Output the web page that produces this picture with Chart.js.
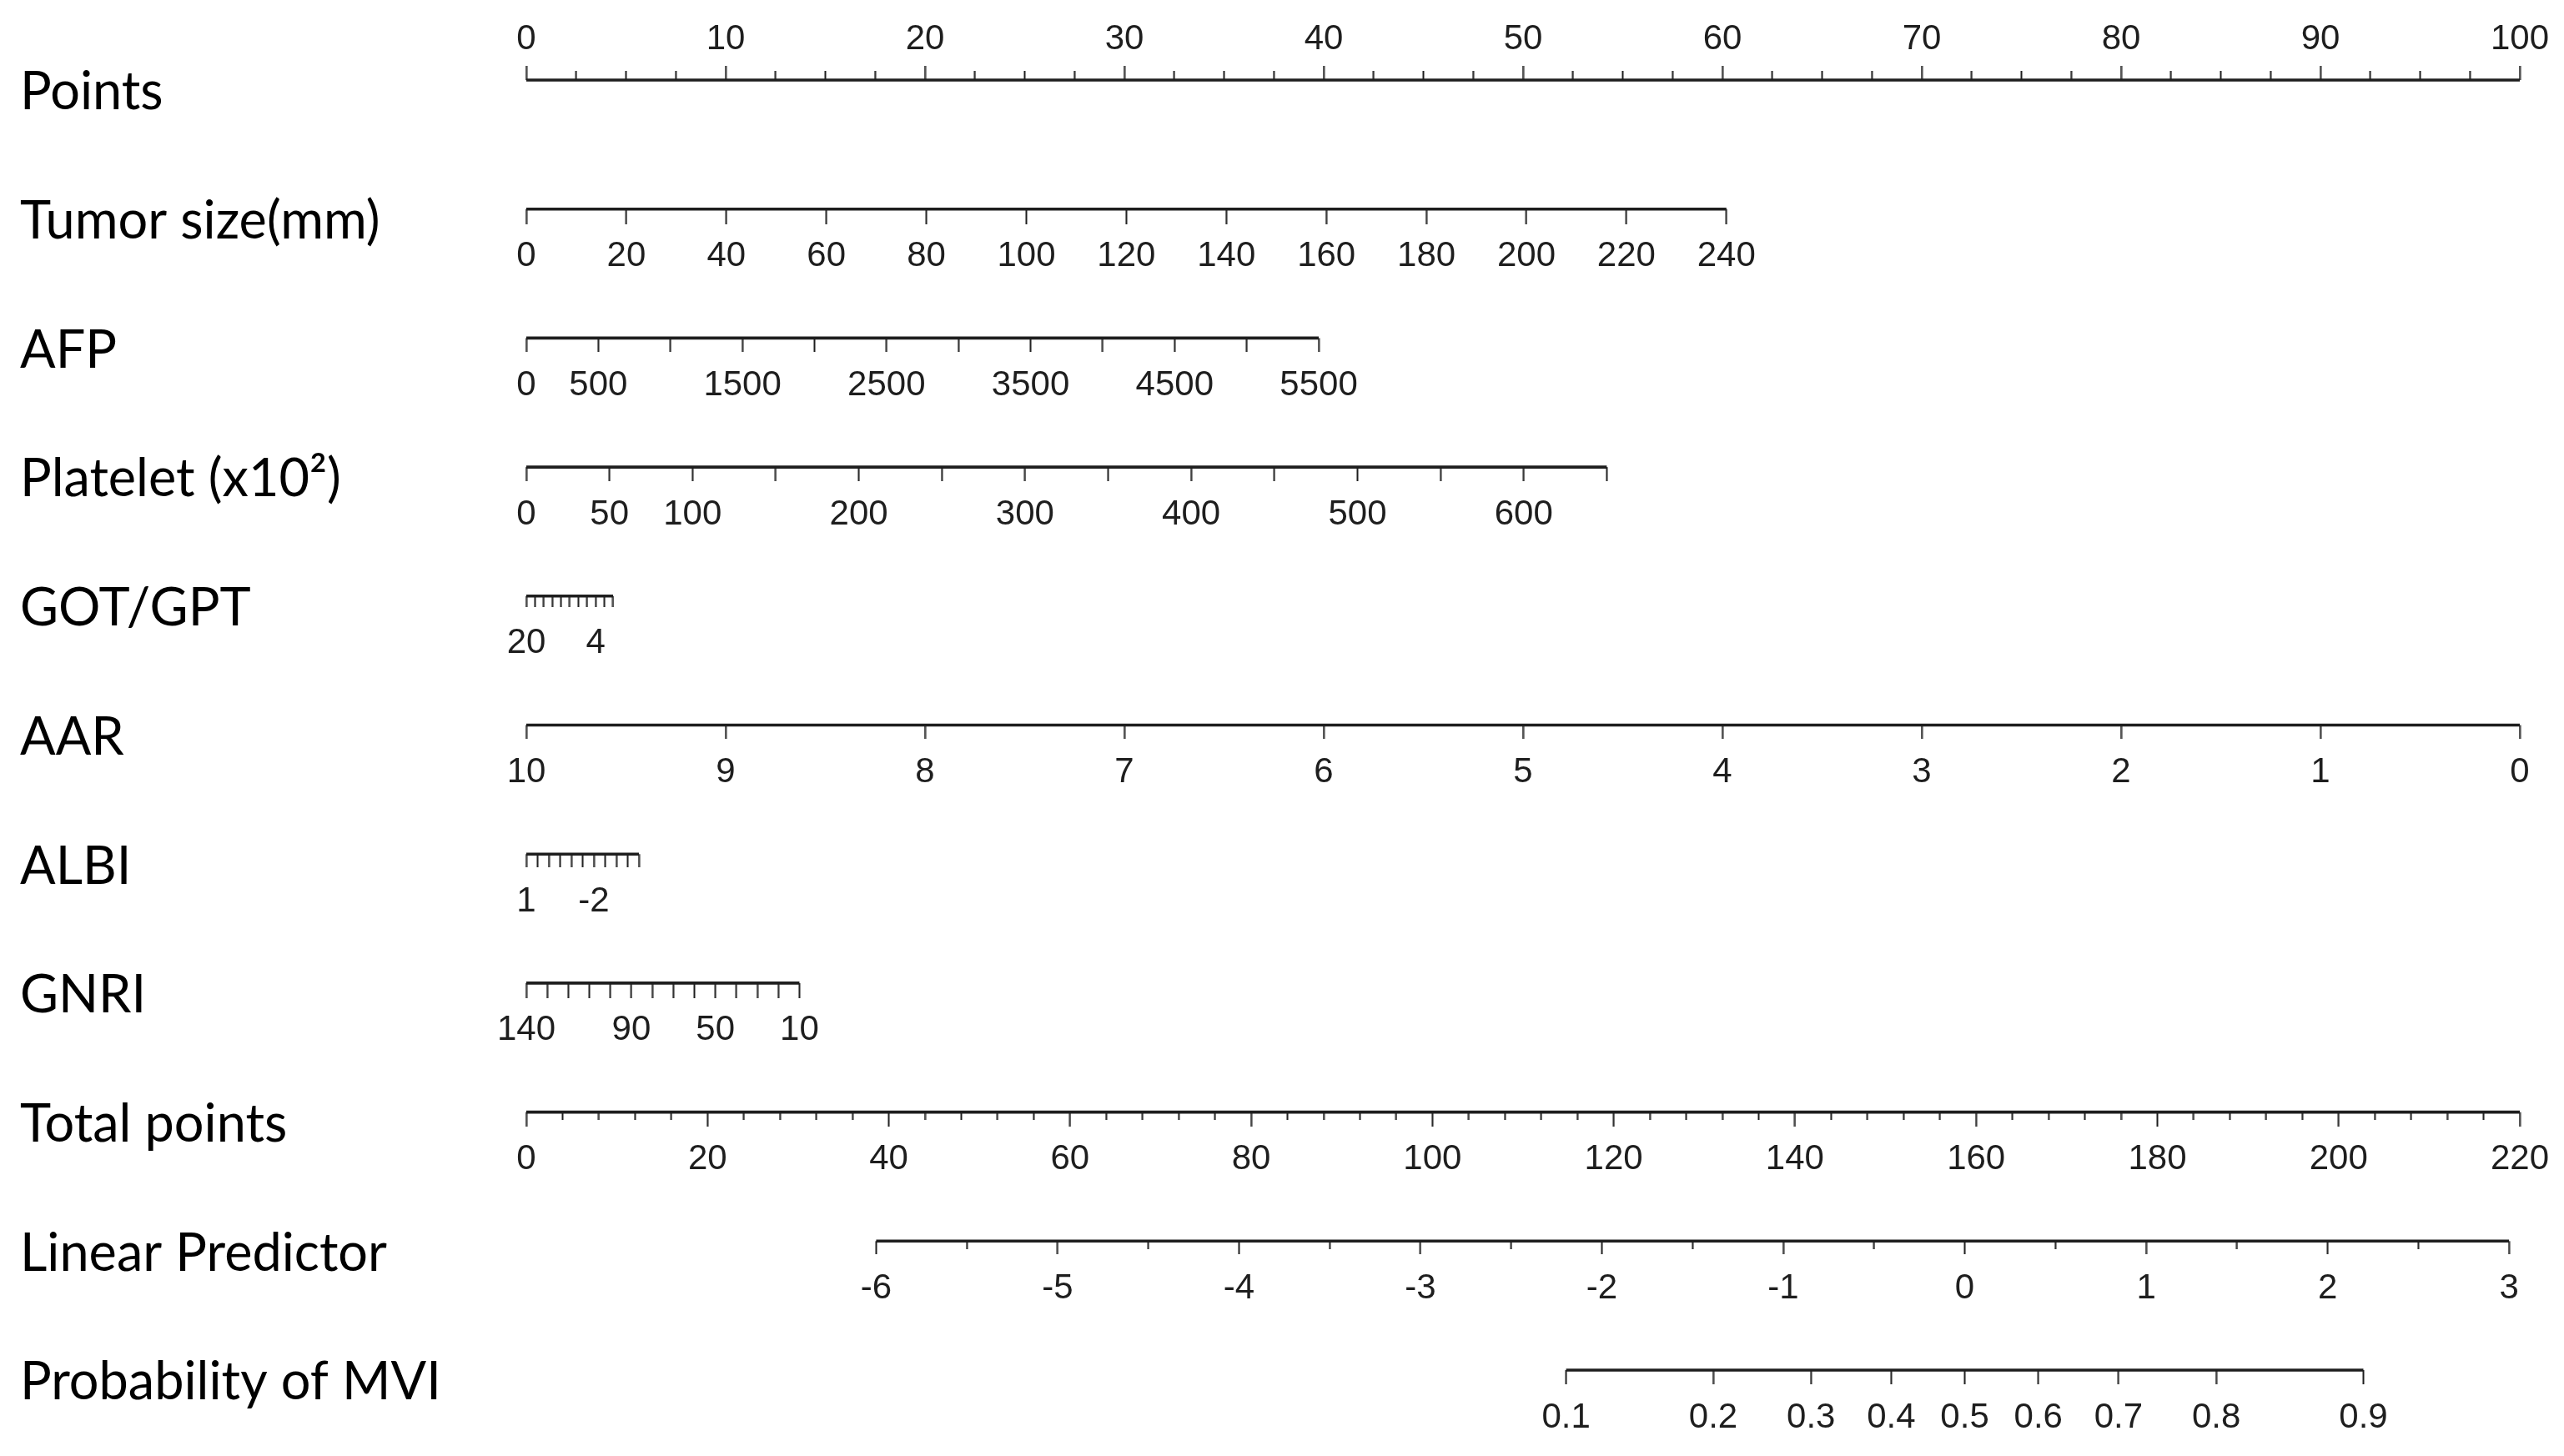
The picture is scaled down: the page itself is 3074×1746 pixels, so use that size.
<!DOCTYPE html>
<html>
<head>
<meta charset="utf-8">
<script src="https://cdn.jsdelivr.net/npm/chart.js@4.4.1/dist/chart.umd.min.js"></script>
<style>
  html, body { margin: 0; padding: 0; background: #ffffff; overflow: hidden; }
  #wrap { width: 3074px; height: 1746px; position: relative; }
</style>
</head>
<body>
<div id="wrap"><canvas id="c"></canvas></div>
<script>
// ---------------- DATA ----------------
const rowNames = ['Points', 'Tumor size(mm)', 'AFP', 'Platelet (x10\u00B2)', 'GOT/GPT', 'AAR', 'ALBI', 'GNRI',
                  'Total points', 'Linear Predictor', 'Probability of MVI'];

// Points scale
const pointsTicks = [0, 2.5, 5, 7.5, 10, 12.5, 15, 17.5, 20, 22.5, 25, 27.5, 30, 32.5, 35, 37.5, 40, 42.5, 45, 47.5,
                     50, 52.5, 55, 57.5, 60, 62.5, 65, 67.5, 70, 72.5, 75, 77.5, 80, 82.5, 85, 87.5, 90, 92.5, 95, 97.5, 100];
const pointsLabels = [0, 10, 20, 30, 40, 50, 60, 70, 80, 90, 100];

// Tumor size (mm): 0..240 spans 0..60.2 points
const tumorTicks = [0, 20, 40, 60, 80, 100, 120, 140, 160, 180, 200, 220, 240];
const tumorLabels = [0, 20, 40, 60, 80, 100, 120, 140, 160, 180, 200, 220, 240];
const tumorRange = [0, 240], tumorPoints = [0, 60.2];

// AFP: 0..5500 spans 0..39.75 points
const afpTicks = [0, 500, 1000, 1500, 2000, 2500, 3000, 3500, 4000, 4500, 5000, 5500];
const afpLabels = [0, 500, 1500, 2500, 3500, 4500, 5500];
const afpRange = [0, 5500], afpPoints = [0, 39.75];

// Platelet: 0..650 spans 0..54.2 points
const plateletTicks = [0, 50, 100, 150, 200, 250, 300, 350, 400, 450, 500, 550, 600, 650];
const plateletLabels = [0, 50, 100, 200, 300, 400, 500, 600];
const plateletRange = [0, 650], plateletPoints = [0, 54.2];

// GOT/GPT: 20..0 spans 0..4.35 points
const gotTicks = [20, 18, 16, 14, 12, 10, 8, 6, 4, 2, 0];
const gotLabels = [20, 4];
const gotRange = [20, 0], gotPoints = [0, 4.35];

// AAR: 10..0 spans 0..100 points
const aarTicks = [10, 9, 8, 7, 6, 5, 4, 3, 2, 1, 0];
const aarLabels = [10, 9, 8, 7, 6, 5, 4, 3, 2, 1, 0];
const aarRange = [10, 0], aarPoints = [0, 100];

// ALBI: 1..-4 spans 0..5.65 points
const albiTicks = [1, 0.5, 0, -0.5, -1, -1.5, -2, -2.5, -3, -3.5, -4];
const albiLabels = [1, -2];
const albiRange = [1, -4], albiPoints = [0, 5.65];

// GNRI: 140..10 spans 0..13.7 points
const gnriTicks = [140, 130, 120, 110, 100, 90, 80, 70, 60, 50, 40, 30, 20, 10];
const gnriLabels = [140, 90, 50, 10];
const gnriRange = [140, 10], gnriPoints = [0, 13.7];

// Total points: 0..220 spans the full points width
const totalTicks = [0, 4, 8, 12, 16, 20, 24, 28, 32, 36, 40, 44, 48, 52, 56, 60, 64, 68, 72, 76, 80, 84, 88, 92, 96,
                    100, 104, 108, 112, 116, 120, 124, 128, 132, 136, 140, 144, 148, 152, 156, 160, 164, 168, 172,
                    176, 180, 184, 188, 192, 196, 200, 204, 208, 212, 216, 220];
const totalLabels = [0, 20, 40, 60, 80, 100, 120, 140, 160, 180, 200, 220];
const totalRange = [0, 220], totalPoints = [0, 100];

// Linear predictor: -6..3 spans 17.55..99.46 on the points width
const lpTicks = [-6, -5.5, -5, -4.5, -4, -3.5, -3, -2.5, -2, -1.5, -1, -0.5, 0, 0.5, 1, 1.5, 2, 2.5, 3];
const lpLabels = [-6, -5, -4, -3, -2, -1, 0, 1, 2, 3];
const lpRange = [-6, 3], lpPoints = [17.55, 99.46];

// Probability of MVI (placed on the logit of the linear predictor)
const probTicks = [0.1, 0.2, 0.3, 0.4, 0.5, 0.6, 0.7, 0.8, 0.9];
const probLabels = [0.1, 0.2, 0.3, 0.4, 0.5, 0.6, 0.7, 0.8, 0.9];

// ---------------- mapping helpers ----------------
function lin(v, vr, pr) { return pr[0] + (v - vr[0]) / (vr[1] - vr[0]) * (pr[1] - pr[0]); }
const logit = p => Math.log(p / (1 - p));

const LINE_COLOR = '#1e1e1e';
const rows = [
  { ticks: pointsTicks,   labels: pointsLabels,   toPts: v => v, up: true, major: 17, minor: 11, majorOnlyLabels: true },
  { ticks: tumorTicks,    labels: tumorLabels,    toPts: v => lin(v, tumorRange, tumorPoints), major: 18 },
  { ticks: afpTicks,      labels: afpLabels,      toPts: v => lin(v, afpRange, afpPoints), major: 17 },
  { ticks: plateletTicks, labels: plateletLabels, toPts: v => lin(v, plateletRange, plateletPoints), major: 17 },
  { ticks: gotTicks,      labels: gotLabels,      toPts: v => lin(v, gotRange, gotPoints), major: 13 },
  { ticks: aarTicks,      labels: aarLabels,      toPts: v => lin(v, aarRange, aarPoints), major: 16 },
  { ticks: albiTicks,     labels: albiLabels,     toPts: v => lin(v, albiRange, albiPoints), major: 16 },
  { ticks: gnriTicks,     labels: gnriLabels,     toPts: v => lin(v, gnriRange, gnriPoints), major: 18 },
  { ticks: totalTicks,    labels: totalLabels,    toPts: v => lin(v, totalRange, totalPoints), major: 17, minor: 9, majorOnlyLabels: true },
  { ticks: lpTicks,       labels: lpLabels,       toPts: v => lin(v, lpRange, lpPoints), major: 16, minor: 10, majorOnlyLabels: true },
  { ticks: probTicks,     labels: probLabels,     toPts: p => lin(logit(p), lpRange, lpPoints), major: 17 }
];

function tickImage(len, up) {
  const c = document.createElement('canvas');
  c.width = 3; c.height = 2 * len;
  const g = c.getContext('2d');
  g.fillStyle = LINE_COLOR;
  g.fillRect(0.5, up ? 0 : len, 2, len);
  return c;
}

const datasets = rows.map((r, i) => {
  const majorImg = tickImage(r.major, !!r.up);
  const minorImg = r.minor ? tickImage(r.minor, !!r.up) : majorImg;
  const data = r.ticks
    .map(v => ({ x: r.toPts(v), y: i, major: r.majorOnlyLabels ? r.labels.includes(v) : true }))
    .sort((a, b) => a.x - b.x);
  return {
    data,
    showLine: true,
    borderColor: LINE_COLOR,
    borderWidth: 3.6,
    tension: 0,
    pointRadius: 3,
    pointHoverRadius: 3,
    pointStyle: ctx => (ctx.raw && ctx.raw.major ? majorImg : minorImg),
    clip: false
  };
});

const LABEL_BELOW = 57, LABEL_ABOVE = 49;
const tickLabelPlugin = {
  id: 'tickLabels',
  afterDatasetsDraw(chart) {
    const { ctx, scales: { x, y } } = chart;
    ctx.save();
    ctx.font = '42px "Liberation Sans", Arial, sans-serif';
    ctx.fillStyle = '#1e1e1e';
    ctx.textAlign = 'center';
    ctx.textBaseline = 'middle';
    rows.forEach((r, i) => {
      const py = y.getPixelForValue(i) + (r.up ? -LABEL_ABOVE : LABEL_BELOW);
      r.labels.forEach(v => ctx.fillText(String(v), x.getPixelForValue(r.toPts(v)), py));
    });
    ctx.restore();
  }
};

new Chart(document.getElementById('c'), {
  type: 'scatter',
  data: { datasets },
  options: {
    responsive: true,
    maintainAspectRatio: false,
    animation: false,
    events: [],
    layout: { padding: { left: 24, right: 53, top: 96, bottom: 103 } },
    plugins: { legend: { display: false }, tooltip: { enabled: false } },
    scales: {
      x: { type: 'linear', min: 0, max: 100, display: false },
      y: {
        type: 'linear', min: 0, max: 10, reverse: true,
        grid: { display: false, drawTicks: false },
        border: { display: false },
        afterBuildTicks: s => { s.ticks = rowNames.map((_, i) => ({ value: i })); },
        afterFit: s => { s.width = 607; },
        ticks: {
          autoSkip: false,
          padding: 0,
          crossAlign: 'far',
          labelOffset: 15,
          color: '#000000',
          font: { family: 'Lato', size: 63 },
          callback: v => rowNames[v]
        }
      }
    }
  },
  plugins: [tickLabelPlugin]
});
</script>
</body>
</html>
